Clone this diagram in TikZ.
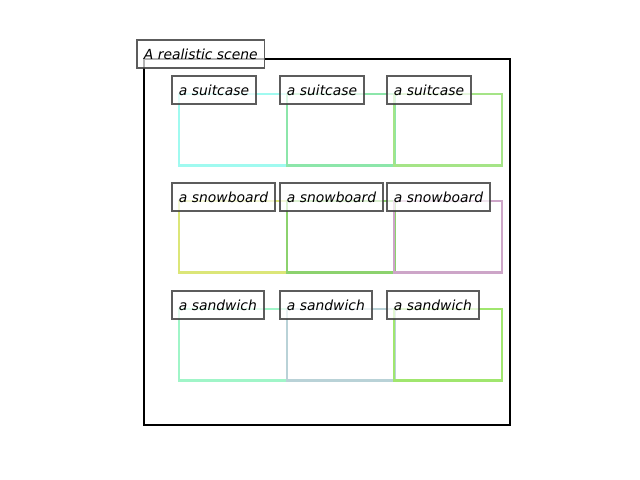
\documentclass[tikz,border=0pt]{standalone}
\usepackage{fontspec}
\setmainfont{DejaVu Sans}
\usepackage{xcolor}
\usetikzlibrary{positioning}
\definecolor{boxa}{RGB}{160,250,240}
\definecolor{boxb}{RGB}{140,230,170}
\definecolor{boxc}{RGB}{165,228,135}
\definecolor{boxd}{RGB}{220,230,120}
\definecolor{boxe}{RGB}{140,210,110}
\definecolor{boxf}{RGB}{205,165,200}
\definecolor{boxg}{RGB}{160,245,200}
\definecolor{boxh}{RGB}{185,210,215}
\definecolor{boxi}{RGB}{160,230,110}
\tikzset{
    tag/.style={draw=black!75, draw opacity=0.85, fill=white, fill opacity=0.7, text opacity=1,
        line width=1pt, inner xsep=5pt, inner ysep=0pt, minimum height=20pt,
        outer sep=0pt, anchor=west, font=\itshape},
    frame/.style={line width=1.5pt}
}
\begin{document}
\begin{tikzpicture}[x=0.72pt, y=-0.72pt]
                        \useasboundingbox (0, 0) rectangle (640, 480);
                        \draw[frame] (144, 59) rectangle (510, 425);
                        % colored boxes, row by row
                        \foreach \col/\x/\y in {boxa/179/94, boxb/287/94, boxc/394/94,
                            boxd/179/201, boxe/287/201, boxf/394/201,
                            boxg/179/309, boxh/287/309, boxi/394/309}
                            \draw[\col, line width=1.8pt] (\x, \y) rectangle ++(108, 71.5);
                        \foreach \x [count=\i] in {172, 280, 387} {
                            \node[tag] (suitcase\i) at (\x, 90) {a suitcase};
                            \node[tag] (snowboard\i) at (\x, 197) {a snowboard};
                            \node[tag] (sandwich\i) at (\x, 305) {a sandwich};
                        }
                        \node[tag] (title) at (137, 54) {A realistic scene};
                    \end{tikzpicture}
\end{document}
